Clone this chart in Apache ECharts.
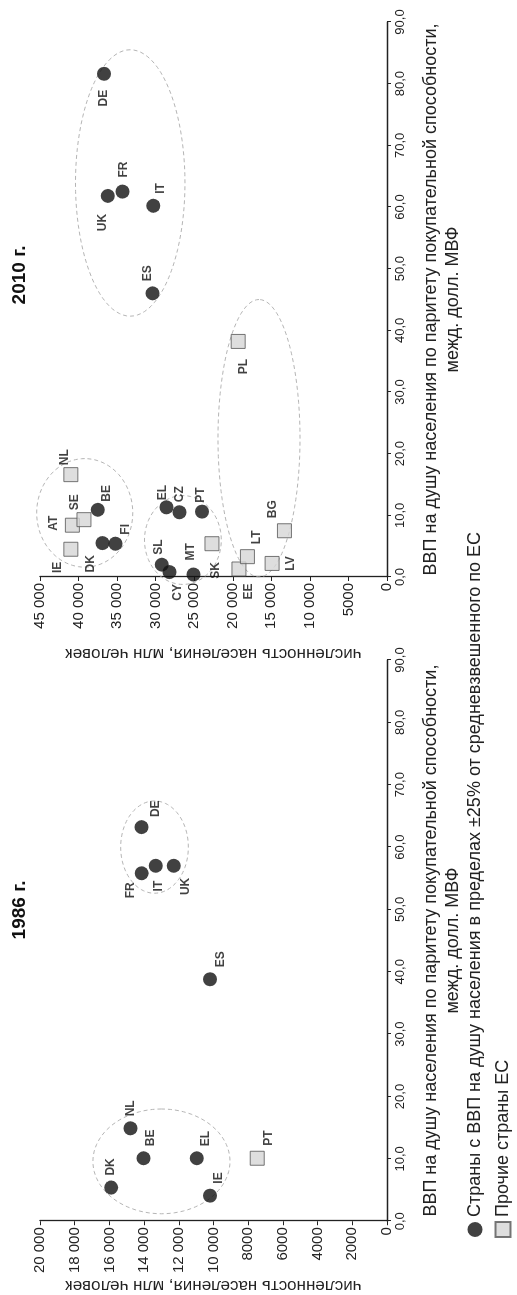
<!DOCTYPE html>
<html><head><meta charset="utf-8">
<script src="https://cdn.jsdelivr.net/npm/echarts@6/dist/echarts.min.js"></script>
<style>
html,body{margin:0;padding:0;width:517px;height:1295px;overflow:hidden;background:#fff}
#chart{position:absolute;left:0;top:0;width:1295px;height:517px;transform-origin:0 0;transform:translateY(1295px) rotate(-90deg);}
</style></head>
<body><div id="chart"></div>
<script>
// ---------- DATA ----------
const seriesCore = 'Страны с ВВП на душу населения в пределах ±25% от средневзвешенного по ЕС';
const seriesOther = 'Прочие страны ЕС';
const title1986 = '1986 г.';
const title2010 = '2010 г.';
const xAxisName = 'ВВП на душу населения по паритету покупательной способности,\nмежд. долл. МВФ';
const yAxisName = 'численность населения, млн человек';

const xTickLabels = ['0,0','10,0','20,0','30,0','40,0','50,0','60,0','70,0','80,0','90,0'];
const yTickLabels1986 = ['0','2000','4000','6000','8000','10 000','12 000','14 000','16 000','18 000','20 000'];
const yTickLabels2010 = ['0','5000','10 000','15 000','20 000','25 000','30 000','35 000','40 000','45 000'];

// 1986
const core1986Codes = ['DK','NL','BE','EL','IE','ES','FR','IT','UK','DE'];
const core1986X = [5.4, 14.9, 10.1, 10.1, 4.1, 38.8, 55.8, 57.0, 57.0, 63.2];
const core1986Y = [15900, 14780, 14030, 10960, 10200, 10200, 14140, 13330, 12290, 14145];
const other1986Codes = ['PT'];
const other1986X = [10.1];
const other1986Y = [7480];

// 2010
const core2010Codes = ['BE','DK','FI','EL','CZ','PT','SL','CY','MT','ES','UK','FR','IT','DE'];
const core2010X = [10.9, 5.5, 5.4, 11.3, 10.5, 10.6, 2.0, 0.8, 0.4, 46.0, 61.8, 62.5, 60.2, 81.6];
const core2010Y = [37500, 36900, 35200, 28600, 26900, 24000, 29200, 28200, 25100, 30400, 36200, 34300, 30300, 36700];
const other2010Codes = ['IE','AT','SE','NL','SK','EE','LT','LV','BG','PL','HU'];
const other2010X = [4.5, 8.4, 9.3, 16.6, 5.4, 1.3, 3.3, 2.2, 7.5, 38.2, 10.0];
const other2010Y = [41000, 40800, 39300, 41000, 22700, 19200, 18100, 14900, 13300, 19300, 18400];

// cluster outlines: [centerX, centerY, radiusX, radiusY]
const groups1986 = [[9.6, 13000, 8.4, 3950], [60.0, 13400, 7.4, 1950]];
const groups2010 = [[10.4, 39200, 8.8, 6230], [6.0, 26470, 7.2, 4980], [22.5, 16600, 22.5, 5320], [63.9, 33300, 21.6, 7100]];

// ---------- STYLE (label placement) ----------
const labelPlace = {
  '1986': {DK:['right',0,0], NL:['right',0,0], BE:['right',0,7], EL:['right',0,9], IE:['right',0,9],
           ES:['right',0,11], FR:['left',3,-11], IT:['left',-3,3], UK:['left',0,12], DE:['right',-2,14], PT:['right',0,11]},
  '2010': {IE:['left',0,-13], AT:['top',2,0], SE:['right',-3,-9], NL:['right',-3,-6], BE:['right',-4,9],
           DK:['left',0,-12], FI:['right',-3,10], EL:['right',-5,-4], CZ:['right',-2,0], PT:['right',-3,-1],
           SL:['right',-2,-3], CY:['left',0,8], MT:['right',2,-3], SK:['left',-6,4], EE:['left',-2,10],
           LT:['right',0,9], LV:['bottom',0,0], BG:['right',0,-12], HU:['right',0,0], PL:['left',-5,6],
           DE:['left',-4,0], FR:['right',2,1], UK:['left',-6,-5], IT:['right',0,7], ES:['right',0,-5]}
};
const hidden = {HU:true};

const FONT = 'Liberation Sans, Arial, sans-serif';
const LABELFONT = '"Liberation Sans Narrow", "Arial Narrow", "Liberation Sans", sans-serif';

function build(codes, xs, ys, year) {
  return codes.map((c, i) => {
    const p = labelPlace[year][c] || ['right', 0, 0];
    const d = {name: c, value: [xs[i], ys[i]], label: {position: p[0], offset: [p[1], p[2]]}};
    if (hidden[c]) d.itemStyle = {opacity: 0};
    return d;
  });
}

function ellipseItem(params, api) {
  const cx = api.value(0), cy = api.value(1), rx = api.value(2), ry = api.value(3);
  const pts = [];
  for (let i = 0; i <= 96; i++) {
    const t = i / 96 * Math.PI * 2;
    pts.push(api.coord([cx + rx * Math.cos(t), cy + ry * Math.sin(t)]));
  }
  return {type: 'polyline', shape: {points: pts}, silent: true,
          style: {stroke: '#b5b5b5', lineWidth: 1, lineDash: [4, 3], fill: null}};
}

const chart = echarts.init(document.getElementById('chart'), null, {width: 1295, height: 517});

const axisLineStyle = {show: true, lineStyle: {color: '#222', width: 1.3}};
const tickStyle = {show: true, length: 4, lineStyle: {color: '#222'}};

function xAxis(gi) {
  return {
    gridIndex: gi, type: 'value', min: 0, max: 90, interval: 10,
    name: xAxisName, nameLocation: 'middle', nameGap: 33,
    nameTextStyle: {fontFamily: FONT, fontSize: 18, color: '#222', lineHeight: 22},
    axisLine: axisLineStyle, axisTick: tickStyle, splitLine: {show: false},
    axisLabel: {fontFamily: FONT, fontSize: 13, color: '#222', margin: 7,
                formatter: v => xTickLabels[Math.round(v / 10)]}
  };
}
function yAxis(gi, max, interval, labels, gap) {
  return {
    gridIndex: gi, type: 'value', min: 0, max: max, interval: interval,
    name: yAxisName, nameLocation: 'middle', nameRotate: 90, nameGap: gap,
    nameTextStyle: {fontFamily: FONT, fontSize: 17, color: '#222'},
    axisLine: axisLineStyle, axisTick: tickStyle, splitLine: {show: false},
    axisLabel: {fontFamily: FONT, fontSize: 15, color: '#222', margin: 6,
                formatter: v => labels[Math.round(v / interval)]}
  };
}

const labelCommon = {show: true, formatter: '{b}', fontFamily: LABELFONT, fontWeight: 'bold', fontSize: 12, color: '#111', distance: 5};
const coreStyle = {symbol: 'circle', symbolSize: 14, itemStyle: {color: '#111'}};
const otherStyle = {symbol: 'rect', symbolSize: 14, itemStyle: {color: '#d6d6d6', borderColor: '#555', borderWidth: 1}};

const option = {
  backgroundColor: '#fff',
  animation: false,
  title: [
    {text: title1986, left: 380, top: 5, textAlign: 'center', textStyle: {fontFamily: FONT, fontSize: 19, fontWeight: 'bold', color: '#111'}},
    {text: title2010, left: 1015, top: 5, textAlign: 'center', textStyle: {fontFamily: FONT, fontSize: 19, fontWeight: 'bold', color: '#111'}}
  ],
  legend: {
    orient: 'vertical', left: 52, top: 461, itemGap: 10, itemWidth: 15, itemHeight: 15,
    textStyle: {fontFamily: FONT, fontSize: 18, color: '#222'},
    data: [{name: seriesCore, icon: 'circle'}, {name: seriesOther, icon: 'rect'}]
  },
  grid: [
    {left: 67, top: 40, width: 568, height: 347},
    {left: 718, top: 40, width: 555, height: 347}
  ],
  xAxis: [xAxis(0), xAxis(1)],
  yAxis: [yAxis(0, 20000, 2000, yTickLabels1986, 50), yAxis(1, 45000, 5000, yTickLabels2010, 68)],
  series: [
    {type: 'custom', xAxisIndex: 0, yAxisIndex: 0, renderItem: ellipseItem, data: groups1986, z: 1, silent: true,
     encode: {x: 0, y: 1}},
    {type: 'custom', xAxisIndex: 1, yAxisIndex: 1, renderItem: ellipseItem, data: groups2010, z: 1, silent: true,
     encode: {x: 0, y: 1}},
    Object.assign({type: 'scatter', name: seriesCore, xAxisIndex: 0, yAxisIndex: 0, z: 3,
      label: labelCommon, data: build(core1986Codes, core1986X, core1986Y, '1986')}, coreStyle),
    Object.assign({type: 'scatter', name: seriesOther, xAxisIndex: 0, yAxisIndex: 0, z: 3,
      label: labelCommon, data: build(other1986Codes, other1986X, other1986Y, '1986')}, otherStyle),
    Object.assign({type: 'scatter', name: seriesCore, xAxisIndex: 1, yAxisIndex: 1, z: 3,
      label: labelCommon, data: build(core2010Codes, core2010X, core2010Y, '2010')}, coreStyle),
    Object.assign({type: 'scatter', name: seriesOther, xAxisIndex: 1, yAxisIndex: 1, z: 3,
      label: labelCommon, data: build(other2010Codes, other2010X, other2010Y, '2010')}, otherStyle)
  ]
};
chart.setOption(option);
</script>
</body></html>
